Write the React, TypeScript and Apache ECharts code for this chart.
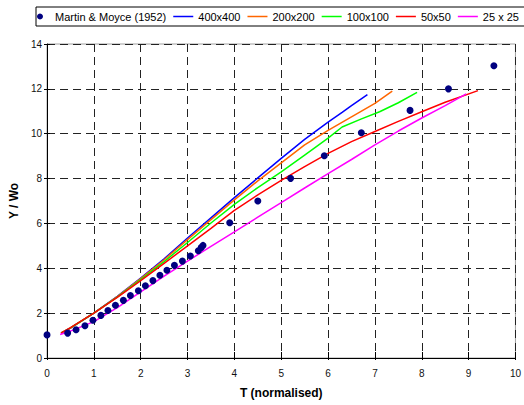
import React, { useEffect, useRef } from "react";
import * as echarts from "echarts";

const xTicks = { min: 0, max: 10, interval: 1 };
const yTicks = { min: 0, max: 14, interval: 2 };

const seriesNames = ["Martin & Moyce (1952)", "400x400", "200x200", "100x100", "50x50", "25 x 25"];
const seriesColors = ["#000080", "#0000FF", "#FF6600", "#00FF00", "#FF0000", "#FF00FF"];

const martinMoyce: [number, number][] = [
  [0, 1.03], [0.44, 1.11], [0.62, 1.26], [0.81, 1.44], [0.98, 1.68], [1.15, 1.9],
  [1.3, 2.12], [1.46, 2.35], [1.63, 2.57], [1.78, 2.79], [1.95, 3.0], [2.1, 3.22],
  [2.26, 3.45], [2.41, 3.69], [2.56, 3.91], [2.72, 4.13], [2.89, 4.32], [3.06, 4.55],
  [3.23, 4.78], [3.29, 4.92], [3.33, 5.02], [3.9, 6.03], [4.5, 7.0], [5.2, 8.01],
  [5.92, 9.02], [6.71, 10.04], [7.75, 11.04], [8.57, 12.0], [9.54, 13.03],
];

const res400: [number, number][] = [
  [0.3, 1.1], [0.5, 1.33], [1.0, 2.0], [1.5, 2.75], [2.0, 3.56], [2.5, 4.42], [3.0, 5.35],
  [3.5, 6.25], [4.0, 7.15], [4.5, 8.03], [5.0, 8.9], [5.5, 9.75], [6.0, 10.52],
  [6.3, 10.95], [6.5, 11.25], [6.84, 11.74],
];

const res200: [number, number][] = [
  [0.3, 1.1], [0.5, 1.33], [1.0, 2.0], [1.5, 2.74], [2.0, 3.54], [2.5, 4.38], [3.0, 5.28],
  [3.5, 6.17], [4.0, 7.05], [4.5, 7.9], [5.0, 8.7], [5.5, 9.5], [6.0, 10.15],
  [6.5, 10.75], [7.0, 11.35], [7.37, 11.9],
];

const res100: [number, number][] = [
  [0.3, 1.12], [0.5, 1.34], [1.0, 2.0], [1.5, 2.72], [2.0, 3.5], [2.5, 4.3], [3.0, 5.15],
  [3.5, 6.02], [4.0, 6.85], [4.5, 7.6], [5.0, 8.3], [5.5, 9.05], [6.0, 9.8],
  [6.3, 10.3], [6.7, 10.65], [7.1, 10.98], [7.5, 11.38], [7.9, 11.84],
];

const res50: [number, number][] = [
  [0.3, 1.12], [0.5, 1.35], [1.0, 2.0], [1.5, 2.7], [2.0, 3.45], [2.5, 4.22], [3.0, 5.0],
  [3.5, 5.78], [4.0, 6.58], [4.5, 7.27], [5.0, 7.92], [5.5, 8.53], [6.0, 9.12],
  [6.5, 9.65], [7.0, 10.1], [7.5, 10.55], [8.0, 10.98], [8.5, 11.4], [9.2, 11.92],
];

const res25: [number, number][] = [
  [0.28, 1.05], [0.5, 1.2], [1.0, 1.62], [1.5, 2.25], [2.0, 2.95], [2.5, 3.65], [3.0, 4.32],
  [3.5, 4.98], [4.0, 5.62], [4.5, 6.28], [5.0, 6.93], [5.5, 7.58], [6.0, 8.22],
  [6.5, 8.85], [7.0, 9.5], [7.5, 10.12], [8.0, 10.7], [8.5, 11.25], [8.95, 11.78],
];

const lineData = [res400, res200, res100, res50, res25];

const FONT = "Liberation Sans, Arial, sans-serif";
const LINE_ICON = "path://M0,0L40,0L40,3L0,3Z";

export default function App() {
  const ref = useRef<HTMLDivElement>(null);

  useEffect(() => {
    if (!ref.current) return;
    const chart = echarts.init(ref.current, null, { renderer: "svg" });
    const gridSplit = {
      show: true,
      lineStyle: { color: "#222", width: 1, type: [8, 5] as number[] },
    };
    chart.setOption({
      animation: false,
      backgroundColor: "#fff",
      textStyle: { fontFamily: FONT },
      legend: {
        left: 36,
        top: 7,
        width: 520,
        padding: [4, 10, 4, 1],
        borderColor: "#000",
        borderWidth: 1,
        backgroundColor: "#fff",
        itemWidth: 20,
        itemHeight: 6,
        itemGap: 7,
        textStyle: { fontSize: 11, color: "#000", fontFamily: FONT },
        data: seriesNames.map((n, i) =>
          i === 0 ? { name: n, icon: "circle" } : { name: n, icon: LINE_ICON }
        ),
      },
      grid: {
        left: 47,
        right: 6,
        top: 44,
        bottom: 47,
        show: true,
        borderColor: "#a0a0a0",
        borderWidth: 1,
        backgroundColor: "transparent",
      },
      xAxis: [
        {
          type: "value",
          min: xTicks.min,
          max: xTicks.max,
          interval: xTicks.interval,
          name: "T (normalised)",
          nameLocation: "middle",
          nameGap: 29,
          nameTextStyle: { fontSize: 12, fontWeight: "bold", color: "#000", fontFamily: FONT },
          axisLine: { show: true, onZero: false, lineStyle: { color: "#000", width: 1 } },
          axisTick: { show: true, inside: true, length: 6, lineStyle: { color: "#000" } },
          axisLabel: { fontSize: 10, color: "#111", margin: 10, fontFamily: FONT },
          splitLine: gridSplit,
        },
        {
          type: "value",
          min: xTicks.min,
          max: xTicks.max,
          interval: xTicks.interval,
          position: "bottom",
          axisLine: { show: false },
          axisTick: { show: true, inside: false, length: 2, lineStyle: { color: "#000" } },
          axisLabel: { show: false },
          splitLine: { show: false },
        },
      ],
      yAxis: [
        {
          type: "value",
          min: yTicks.min,
          max: yTicks.max,
          interval: yTicks.interval,
          name: "Y / Wo",
          nameLocation: "middle",
          nameGap: 24,
          nameTextStyle: { fontSize: 12, fontWeight: "bold", color: "#000", fontFamily: FONT },
          axisLine: { show: true, onZero: false, lineStyle: { color: "#000", width: 1 } },
          axisTick: { show: true, inside: true, length: 3, lineStyle: { color: "#000" } },
          axisLabel: { fontSize: 10, color: "#111", margin: 5, fontFamily: FONT },
          splitLine: gridSplit,
        },
        {
          type: "value",
          min: yTicks.min,
          max: yTicks.max,
          interval: yTicks.interval,
          position: "left",
          axisLine: { show: false },
          axisTick: { show: true, inside: false, length: 3, lineStyle: { color: "#000" } },
          axisLabel: { show: false },
          splitLine: { show: false },
        },
      ],
      series: [
        {
          name: seriesNames[0],
          type: "scatter",
          data: martinMoyce,
          symbol: "circle",
          symbolSize: 7,
          itemStyle: { color: seriesColors[0], opacity: 1 },
          clip: false,
          z: 3,
        },
        ...lineData.map((d, i) => ({
          name: seriesNames[i + 1],
          type: "line",
          data: d,
          symbol: "none",
          smooth: false,
          lineStyle: { color: seriesColors[i + 1], width: 1.5 },
          itemStyle: { color: seriesColors[i + 1] },
          z: 2,
        })),
      ],
    });
    return () => chart.dispose();
  }, []);

  return (
    <div
      ref={ref}
      style={{ position: "fixed", left: 0, top: 0, width: 524, height: 405 }}
    />
  );
}
